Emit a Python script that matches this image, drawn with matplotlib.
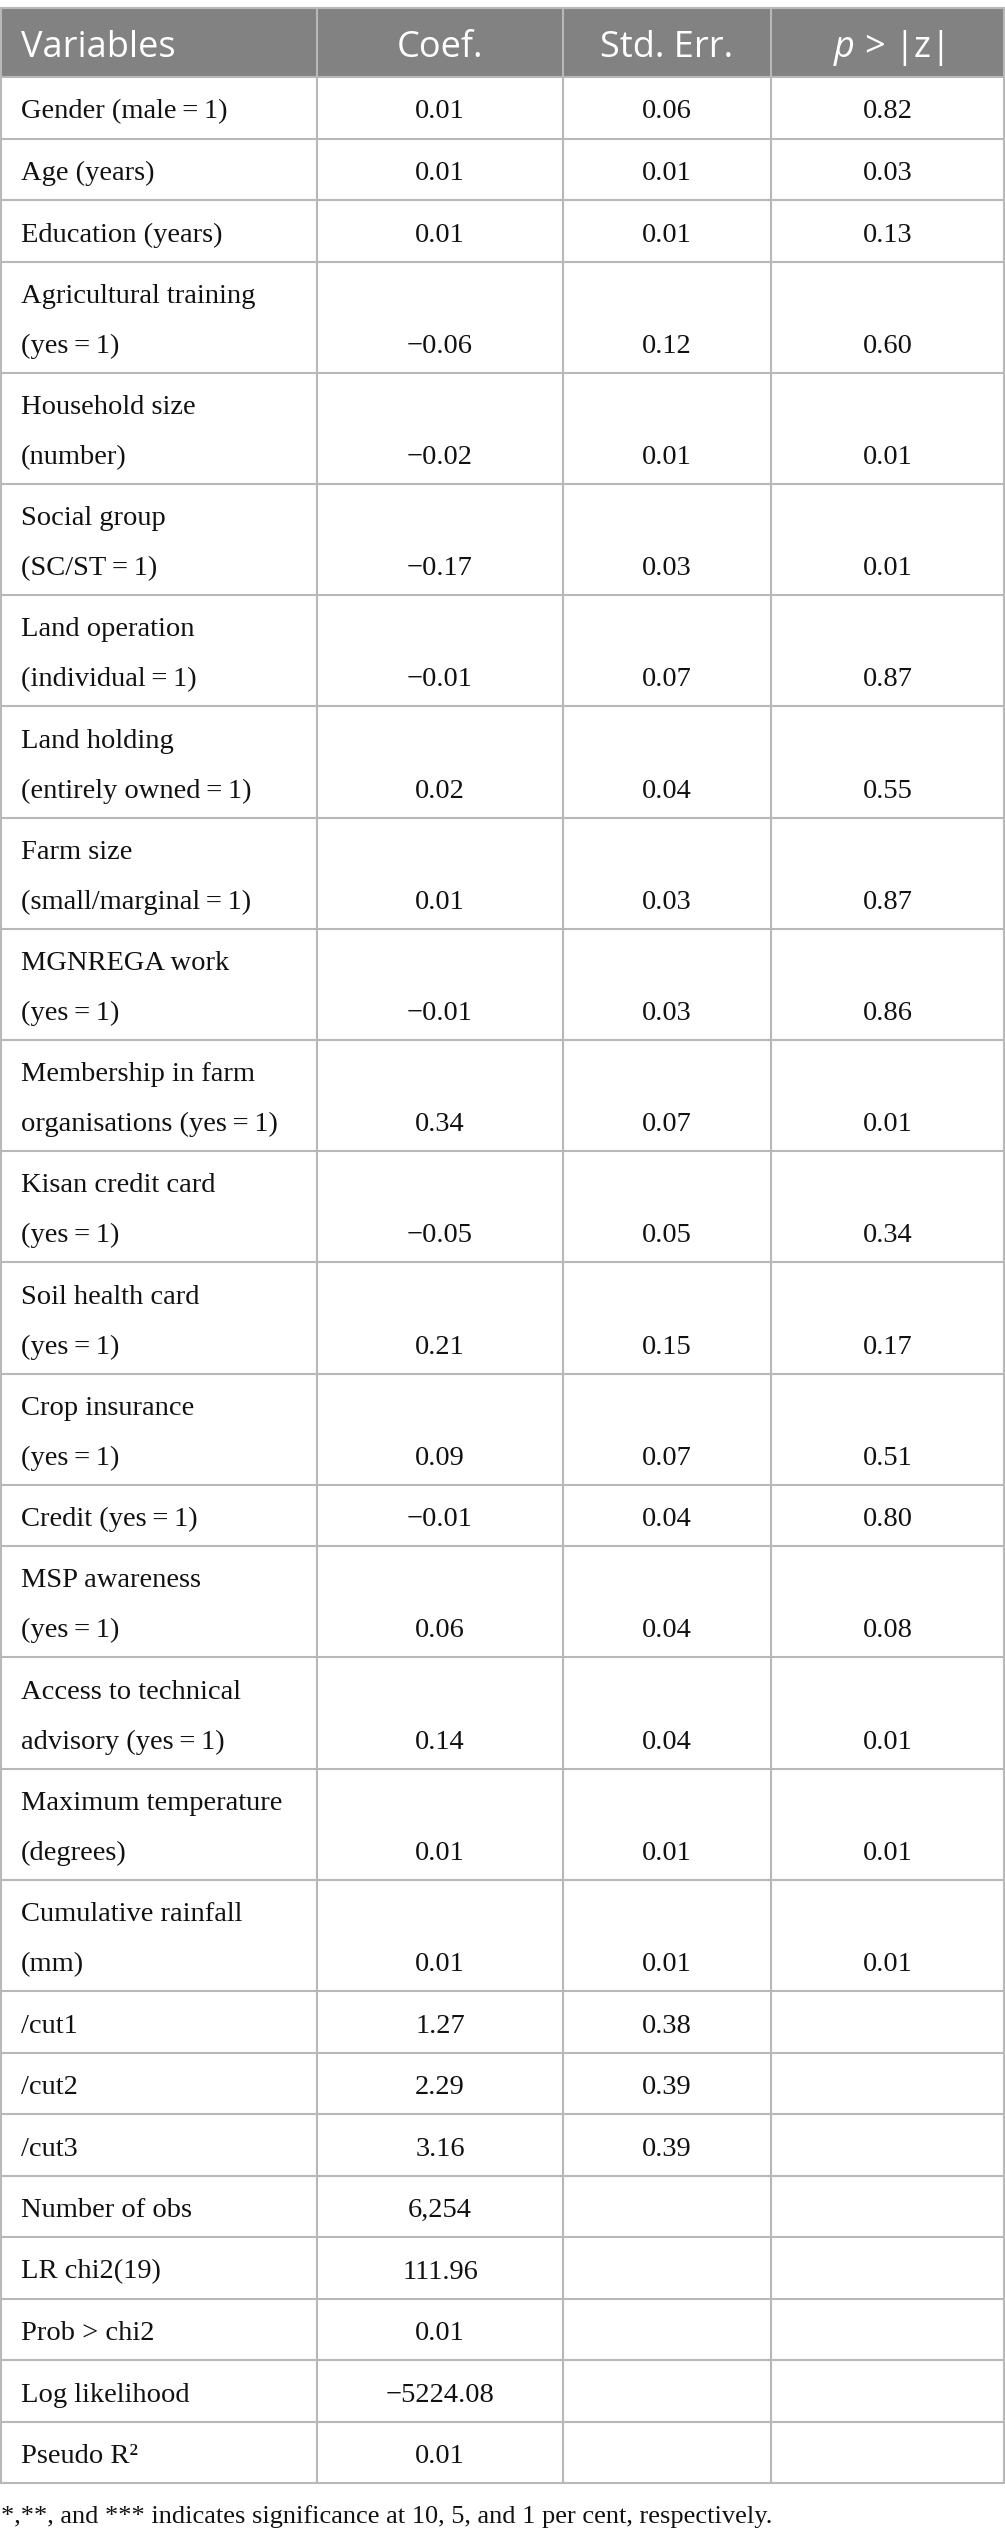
#!/usr/bin/env python3
"""Ordered probit results table, redrawn as a figure."""
import matplotlib
matplotlib.use("Agg")
import matplotlib.pyplot as plt
from matplotlib.patches import Rectangle

plt.rcParams["mathtext.fontset"] = "custom"
plt.rcParams["mathtext.it"] = "Open Sans:italic"
plt.rcParams["mathtext.rm"] = "Open Sans"

headers = ["Variables", "Coef.", "Std. Err.", "$p$ > |z|"]

variables = [
    ["Gender (male\u2009=\u20091)"],
    ["Age (years)"],
    ["Education (years)"],
    ["Agricultural training", "(yes\u2009=\u20091)"],
    ["Household size", "(number)"],
    ["Social group", "(SC/ST\u2009=\u20091)"],
    ["Land operation", "(individual\u2009=\u20091)"],
    ["Land holding", "(entirely owned\u2009=\u20091)"],
    ["Farm size", "(small/marginal\u2009=\u20091)"],
    ["MGNREGA work", "(yes\u2009=\u20091)"],
    ["Membership in farm", "organisations (yes\u2009=\u20091)"],
    ["Kisan credit card", "(yes\u2009=\u20091)"],
    ["Soil health card", "(yes\u2009=\u20091)"],
    ["Crop insurance", "(yes\u2009=\u20091)"],
    ["Credit (yes\u2009=\u20091)"],
    ["MSP awareness", "(yes\u2009=\u20091)"],
    ["Access to technical", "advisory (yes\u2009=\u20091)"],
    ["Maximum temperature", "(degrees)"],
    ["Cumulative rainfall", "(mm)"],
    ["/cut1"],
    ["/cut2"],
    ["/cut3"],
    ["Number of obs"],
    ["LR chi2(19)"],
    ["Prob > chi2"],
    ["Log likelihood"],
    ["Pseudo R\u00b2"],
]

coef = ["0.01", "0.01", "0.01", "\u22120.06", "\u22120.02", "\u22120.17", "\u22120.01",
        "0.02", "0.01", "\u22120.01", "0.34", "\u22120.05", "0.21", "0.09", "\u22120.01",
        "0.06", "0.14", "0.01", "0.01", "1.27", "2.29", "3.16", "6,254", "111.96",
        "0.01", "\u22125224.08", "0.01"]
std_err = ["0.06", "0.01", "0.01", "0.12", "0.01", "0.03", "0.07", "0.04", "0.03",
           "0.03", "0.07", "0.05", "0.15", "0.07", "0.04", "0.04", "0.04", "0.01",
           "0.01", "0.38", "0.39", "0.39", "", "", "", "", ""]
p_value = ["0.82", "0.03", "0.13", "0.60", "0.01", "0.01", "0.87", "0.55", "0.87",
           "0.86", "0.01", "0.34", "0.17", "0.51", "0.80", "0.08", "0.01", "0.01",
           "0.01", "", "", "", "", "", "", "", ""]

footnote = "*,**, and *** indicates significance at 10, 5, and 1 per cent, respectively."

# layout in pixels
W, H = 1005, 2544
col_edges = [0, 317, 563, 771, 1005]
top, head_bottom = 8, 77
single_h, double_h = 61.5, 111.2
line_gap = 50
pad_left = 21
line_col = "#b8b8b8"
head_col = "#828282"
serif = ["Liberation Serif", "DejaVu Serif"]
ink = "#111111"

fig = plt.figure(figsize=(W / 100, H / 100), dpi=100)
ax = fig.add_axes([0, 0, 1, 1])
ax.set_xlim(0, W)
ax.set_ylim(H, 0)
ax.axis("off")

# header
ax.add_patch(Rectangle((0, top), W, head_bottom - top, facecolor=head_col,
                       edgecolor="none"))
for i, h in enumerate(headers):
    if i == 0:
        x, ha = pad_left, "left"
    else:
        x, ha = (col_edges[i] + col_edges[i + 1]) / 2, "center"
    ax.text(x, 57, h, ha=ha, va="baseline", color="white", fontsize=26,
            family="Open Sans")

# body rows
y = head_bottom
row_bounds = [top, head_bottom]
for name, c, s, p in zip(variables, coef, std_err, p_value):
    h = single_h if len(name) == 1 else double_h
    base = y + h - 20
    for k, line in enumerate(name):
        ax.text(pad_left, base - (len(name) - 1 - k) * line_gap, line,
                ha="left", va="baseline", fontsize=20.5, family=serif, color=ink)
    for j, val in enumerate([c, s, p]):
        cx = (col_edges[j + 1] + col_edges[j + 2]) / 2
        ax.text(cx, base, val, ha="center", va="baseline", fontsize=20.5,
                family=serif, color=ink)
    y += h
    row_bounds.append(y)

bottom = row_bounds[-1]
for yb in row_bounds:
    ax.plot([0, W], [yb, yb], color=line_col, lw=1.5, solid_capstyle="butt")
for xb in col_edges:
    xb = min(max(xb, 1), W - 1)
    ax.plot([xb, xb], [top, bottom], color=line_col, lw=1.5, solid_capstyle="butt")

ax.text(1, 2523, footnote, ha="left", va="baseline", fontsize=19, family=serif,
        color=ink)

fig.savefig("out.png", dpi=100)
